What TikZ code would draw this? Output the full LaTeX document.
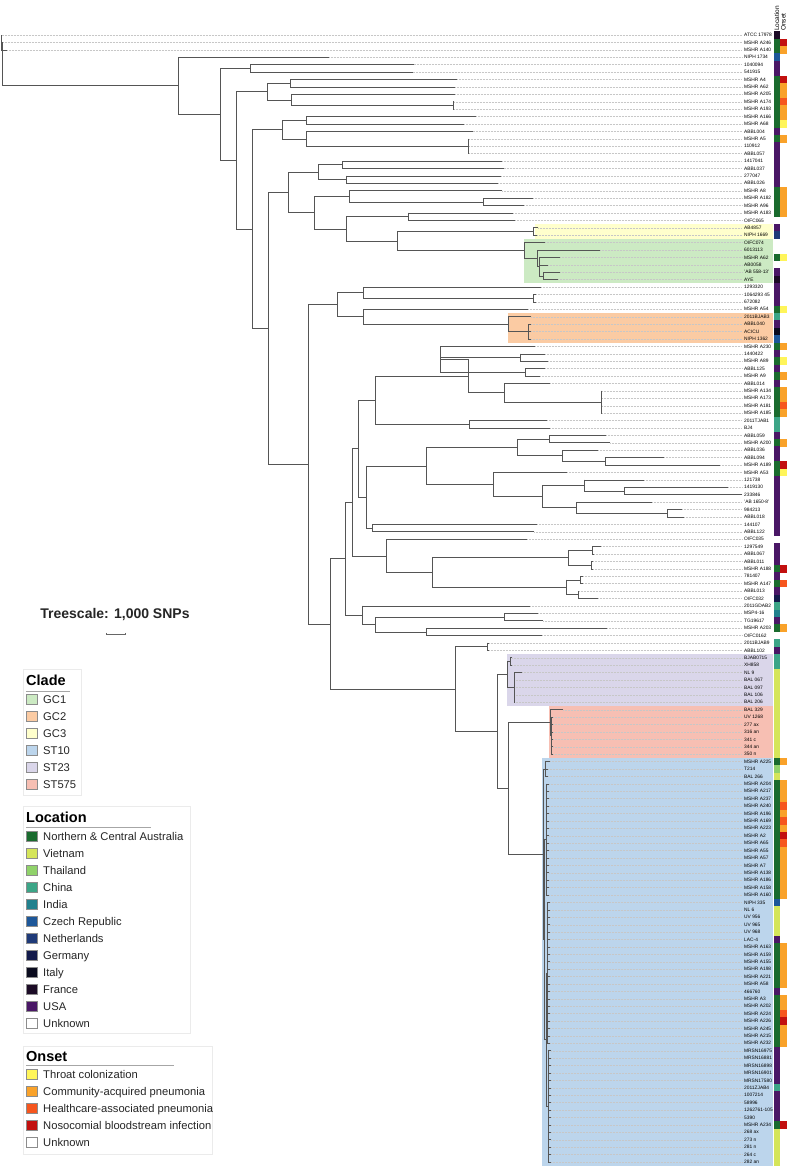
\documentclass[tikz,border=0pt]{standalone}
\usepackage{fontspec}
\setmainfont{Liberation Sans}
\definecolor{bGCa}{HTML}{CCEAC3}
\definecolor{bGCb}{HTML}{FBCBA3}
\definecolor{bGCc}{HTML}{FFFFCC}
\definecolor{bSTa}{HTML}{BCD5EC}
\definecolor{bSTb}{HTML}{DAD6EA}
\definecolor{bSTc}{HTML}{F7BFB3}
\definecolor{lNCA}{HTML}{1A6B2E}
\definecolor{lVIE}{HTML}{D5E55A}
\definecolor{lTHA}{HTML}{90D26A}
\definecolor{lCHN}{HTML}{3CA587}
\definecolor{lIND}{HTML}{21808D}
\definecolor{lCZE}{HTML}{1D5799}
\definecolor{lNED}{HTML}{1F3A78}
\definecolor{lGER}{HTML}{131A4B}
\definecolor{lITA}{HTML}{0A0B1E}
\definecolor{lFRA}{HTML}{1C0B26}
\definecolor{lUSA}{HTML}{4A1766}
\definecolor{oTHR}{HTML}{FFF55A}
\definecolor{oCAP}{HTML}{F9A22A}
\definecolor{oHAP}{HTML}{F6561E}
\definecolor{oNBI}{HTML}{C2100F}
\definecolor{brc}{HTML}{555555}
\tikzset{
  br/.style={draw=brc,line width=0.6pt,line cap=rect},
  dotln/.style={draw=black!22,line width=0.35pt,dash pattern=on 0.5pt off 1pt},
  lbl/.style={anchor=west,inner sep=0pt,font=\fontsize{4.85pt}{5pt}\selectfont,text=black},
  legtitle/.style={anchor=base west,inner sep=0pt,font=\bfseries\fontsize{14.5pt}{16pt}\selectfont},
  legtext/.style={anchor=base west,inner sep=0pt,font=\fontsize{11.2pt}{13pt}\selectfont,text=black!85},
  legbox/.style={draw=black!8,line width=0.6pt,fill=white},
  legsq/.style={draw=black!45,line width=0.4pt,minimum size=10.5pt,inner sep=0pt}
}
\newdimen\tyy
\newcommand{\inode}[3]{%
  \xdef\ymn{1000}\xdef\ymx{-2000}%
  \foreach \c in {#3}{%
    \pgfextracty{\tyy}{\pgfpointanchor{\c}{center}}%
    \pgfmathsetmacro\tmp{min(\ymn,\tyy)}\xdef\ymn{\tmp}%
    \pgfmathsetmacro\tmp{max(\ymx,\tyy)}\xdef\ymx{\tmp}%
    \draw[br] (#2pt,\the\tyy) -- (\c.center);%
  }%
  \draw[br] (#2pt,\ymn pt) -- (#2pt,\ymx pt);%
  \pgfmathsetmacro\tmp{(\ymn+\ymx)/2}%
  \coordinate (#1) at (#2pt,\tmp pt);%
}
\def\nocol{no}
\newcommand{\leaf}[5]{%
  \pgfmathsetmacro\yy{-(35+(#1-1)*7.414)}%
  \pgfmathsetmacro\ya{\yy+3.76}%
  \pgfmathsetmacro\yb{\yy-3.76}%
  \coordinate (t#1) at (#2pt,\yy pt);%
  \draw[dotln] (t#1) -- (742pt,\yy pt);%
  \node[lbl] (l#1) at (744pt,\yy pt) {#3};%
  \def\tmpa{#4}\ifx\tmpa\nocol\else\fill[fill=l#4] (774pt,\ya pt) rectangle (779.5pt,\yb pt);\fi
  \def\tmpa{#5}\ifx\tmpa\nocol\else\fill[fill=o#5] (780pt,\ya pt) rectangle (786.5pt,\yb pt);\fi
}
\newcommand{\band}[4]{% color, x, first leaf, last leaf
  \pgfmathsetmacro\ya{-(35+(#3-1)*7.414)+3.707}%
  \pgfmathsetmacro\yb{-(35+(#4-1)*7.414)-3.707}%
  \fill[fill=#1] (#2pt,\ya pt) rectangle (773pt,\yb pt);%
}
\begin{document}
\begin{tikzpicture}[x=1pt,y=1pt]
\useasboundingbox (0,0) rectangle (787,-1168);
\fill[white] (0,0) rectangle (787,-1168);
% clade bands
\band{bGCc}{535}{27}{28}
\band{bGCa}{524}{29}{34}
\band{bGCb}{508}{39}{42}
\band{bSTb}{507}{85}{91}
\band{bSTc}{549}{92}{98}
\band{bSTa}{542}{99}{153}
% headers
\node[anchor=west,rotate=90,inner sep=0pt,font=\fontsize{6.5pt}{7pt}\selectfont] (hloc) at (776.8,-31) {Location};
\node[anchor=west,rotate=90,inner sep=0pt,font=\fontsize{6.5pt}{7pt}\selectfont] (hons) at (783.3,-31) {Onset};
% leaves
\leaf{1}{1.5}{ATCC 17978}{FRA}{no}
\leaf{2}{3}{MSHR A246}{NCA}{NBI}
\leaf{3}{7}{MSHR A140}{NCA}{CAP}
\leaf{4}{329}{NIPH 1734}{CZE}{no}
\leaf{5}{413.6}{1040094}{USA}{no}
\leaf{6}{412.5}{541915}{USA}{no}
\leaf{7}{457}{MSHR A4}{NCA}{NBI}
\leaf{8}{455}{MSHR A62}{NCA}{CAP}
\leaf{9}{455}{MSHR A205}{NCA}{CAP}
\leaf{10}{454}{MSHR A174}{NCA}{HAP}
\leaf{11}{454}{MSHR A193}{NCA}{CAP}
\leaf{12}{476}{MSHR A166}{NCA}{CAP}
\leaf{13}{464}{MSHR A68}{NCA}{THR}
\leaf{14}{472.5}{ABBL004}{USA}{no}
\leaf{15}{469}{MSHR A5}{NCA}{CAP}
\leaf{16}{469}{110912}{USA}{no}
\leaf{17}{469}{ABBL057}{USA}{no}
\leaf{18}{502}{1417041}{USA}{no}
\leaf{19}{503.6}{ABBL037}{USA}{no}
\leaf{20}{501}{277047}{USA}{no}
\leaf{21}{498}{ABBL026}{USA}{no}
\leaf{22}{502}{MSHR A8}{NCA}{CAP}
\leaf{23}{533}{MSHR A182}{NCA}{CAP}
\leaf{24}{524}{MSHR A96}{NCA}{CAP}
\leaf{25}{513}{MSHR A183}{NCA}{CAP}
\leaf{26}{515}{OIFC065}{no}{no}
\leaf{27}{538}{AB4857}{USA}{no}
\leaf{28}{537}{NIPH 1669}{NED}{no}
\leaf{29}{545}{OIFC074}{no}{no}
\leaf{30}{600}{6013113}{no}{no}
\leaf{31}{560}{MSHR A62}{NCA}{THR}
\leaf{32}{548}{AB0058}{no}{no}
\leaf{33}{560}{'AB 558-13'}{USA}{no}
\leaf{34}{558}{AYE}{FRA}{no}
\leaf{35}{541}{1293320}{USA}{no}
\leaf{36}{536}{1064293 45}{USA}{no}
\leaf{37}{536}{672082}{USA}{no}
\leaf{38}{528}{MSHR A54}{NCA}{THR}
\leaf{39}{531}{2011BJAB3}{CHN}{no}
\leaf{40}{531}{ABBL040}{USA}{no}
\leaf{41}{531}{ACICU}{ITA}{no}
\leaf{42}{531}{NIPH 1362}{CZE}{no}
\leaf{43}{535}{MSHR A230}{NCA}{CAP}
\leaf{44}{545}{1440422}{USA}{no}
\leaf{45}{548}{MSHR A89}{NCA}{THR}
\leaf{46}{545}{ABBL125}{USA}{no}
\leaf{47}{540}{MSHR A9}{NCA}{CAP}
\leaf{48}{550}{ABBL014}{USA}{no}
\leaf{49}{602}{MSHR A134}{NCA}{CAP}
\leaf{50}{602}{MSHR A173}{NCA}{CAP}
\leaf{51}{602}{MSHR A181}{NCA}{HAP}
\leaf{52}{602}{MSHR A185}{NCA}{CAP}
\leaf{53}{547}{2011TJAB1}{CHN}{no}
\leaf{54}{550}{BJ4}{CHN}{no}
\leaf{55}{606}{ABBL059}{USA}{no}
\leaf{56}{610}{MSHR A200}{NCA}{CAP}
\leaf{57}{598}{ABBL036}{USA}{no}
\leaf{58}{664}{ABBL094}{USA}{no}
\leaf{59}{720}{MSHR A189}{NCA}{NBI}
\leaf{60}{567}{MSHR A53}{NCA}{THR}
\leaf{61}{644}{121738}{USA}{no}
\leaf{62}{728}{1419130}{USA}{no}
\leaf{63}{742}{233846}{USA}{no}
\leaf{64}{652}{'AB 1650-8'}{USA}{no}
\leaf{65}{682}{984213}{USA}{no}
\leaf{66}{684}{ABBL018}{USA}{no}
\leaf{67}{537}{144107}{USA}{no}
\leaf{68}{534}{ABBL122}{USA}{no}
\leaf{69}{527}{OIFC035}{no}{no}
\leaf{70}{601}{1297549}{USA}{no}
\leaf{71}{594}{ABBL067}{USA}{no}
\leaf{72}{593}{ABBL011}{USA}{no}
\leaf{73}{593}{MSHR A188}{NCA}{NBI}
\leaf{74}{583}{781407}{USA}{no}
\leaf{75}{583}{MSHR A147}{NCA}{HAP}
\leaf{76}{579}{ABBL013}{USA}{no}
\leaf{77}{598}{OIFC032}{GER}{no}
\leaf{78}{530}{2011GDAB2}{CHN}{no}
\leaf{79}{538}{MSP4-16}{IND}{no}
\leaf{80}{543}{TG19617}{USA}{no}
\leaf{81}{607}{MSHR A203}{NCA}{CAP}
\leaf{82}{542}{OIFC0162}{no}{no}
\leaf{83}{489}{2011BJAB9}{CHN}{no}
\leaf{84}{489}{ABBL102}{USA}{no}
\leaf{85}{512}{BJAB0715}{CHN}{no}
\leaf{86}{512}{XH858}{CHN}{no}
\leaf{87}{522}{NL 9}{VIE}{no}
\leaf{88}{514}{BAL 067}{VIE}{no}
\leaf{89}{514}{BAL 097}{VIE}{no}
\leaf{90}{514}{BAL 106}{VIE}{no}
\leaf{91}{514}{BAL 206}{VIE}{no}
\leaf{92}{563}{BAL 329}{VIE}{no}
\leaf{93}{553}{UV 1268}{VIE}{no}
\leaf{94}{553}{277 ax}{VIE}{no}
\leaf{95}{553}{316 an}{VIE}{no}
\leaf{96}{553}{341 c}{VIE}{no}
\leaf{97}{553}{344 an}{VIE}{no}
\leaf{98}{553}{350 n}{VIE}{no}
\leaf{99}{550}{MSHR A225}{NCA}{CAP}
\leaf{100}{548}{T214}{THA}{no}
\leaf{101}{548}{BAL 266}{VIE}{no}
\leaf{102}{549}{MSHR A204}{NCA}{CAP}
\leaf{103}{549}{MSHR A217}{NCA}{CAP}
\leaf{104}{549}{MSHR A237}{NCA}{CAP}
\leaf{105}{549}{MSHR A240}{NCA}{HAP}
\leaf{106}{549}{MSHR A196}{NCA}{CAP}
\leaf{107}{549}{MSHR A169}{NCA}{HAP}
\leaf{108}{549}{MSHR A223}{NCA}{CAP}
\leaf{109}{549}{MSHR A2}{NCA}{NBI}
\leaf{110}{549}{MSHR A65}{NCA}{HAP}
\leaf{111}{549}{MSHR A55}{NCA}{CAP}
\leaf{112}{549}{MSHR A57}{NCA}{CAP}
\leaf{113}{549}{MSHR A7}{NCA}{CAP}
\leaf{114}{549}{MSHR A138}{NCA}{CAP}
\leaf{115}{549}{MSHR A186}{NCA}{CAP}
\leaf{116}{549}{MSHR A158}{NCA}{CAP}
\leaf{117}{549}{MSHR A160}{NCA}{CAP}
\leaf{118}{550}{NIPH 335}{CZE}{no}
\leaf{119}{550}{NL 6}{VIE}{no}
\leaf{120}{550}{UV 956}{VIE}{no}
\leaf{121}{550}{UV 965}{VIE}{no}
\leaf{122}{550}{UV 968}{VIE}{no}
\leaf{123}{550}{LAC-4}{USA}{no}
\leaf{124}{550}{MSHR A163}{NCA}{CAP}
\leaf{125}{550}{MSHR A159}{NCA}{CAP}
\leaf{126}{550}{MSHR A155}{NCA}{CAP}
\leaf{127}{550}{MSHR A198}{NCA}{CAP}
\leaf{128}{550}{MSHR A221}{NCA}{CAP}
\leaf{129}{550}{MSHR A58}{NCA}{CAP}
\leaf{130}{550}{466760}{USA}{no}
\leaf{131}{550}{MSHR A3}{NCA}{CAP}
\leaf{132}{550}{MSHR A202}{NCA}{CAP}
\leaf{133}{550}{MSHR A224}{NCA}{HAP}
\leaf{134}{550}{MSHR A226}{NCA}{NBI}
\leaf{135}{550}{MSHR A245}{NCA}{CAP}
\leaf{136}{550}{MSHR A215}{NCA}{CAP}
\leaf{137}{550}{MSHR A232}{NCA}{CAP}
\leaf{138}{551}{MRSN16975}{USA}{no}
\leaf{139}{551}{MRSN16881}{USA}{no}
\leaf{140}{551}{MRSN16898}{USA}{no}
\leaf{141}{551}{MRSN16901}{USA}{no}
\leaf{142}{551}{MRSN17580}{USA}{no}
\leaf{143}{551}{2011ZJAB4}{CHN}{no}
\leaf{144}{551}{1007214}{USA}{no}
\leaf{145}{551}{58996}{USA}{no}
\leaf{146}{551}{1262761-105}{USA}{no}
\leaf{147}{551}{5390}{USA}{no}
\leaf{148}{551}{MSHR A234}{NCA}{NBI}
\leaf{149}{551}{268 ax}{VIE}{no}
\leaf{150}{551}{273 n}{VIE}{no}
\leaf{151}{551}{281 n}{VIE}{no}
\leaf{152}{551}{264 c}{VIE}{no}
\leaf{153}{551}{282 an}{VIE}{no}
% ---- tree: upper part
\inode{a0}{1}{t1,t2,t3}
\inode{n250}{250}{t5,t6}
\inode{n290a}{290}{t7,t8}
\inode{n453}{453}{t10,t11}
\inode{n291}{291}{t9,n453}
\inode{n267}{267}{n290a,n291}
\inode{n306a}{306}{t12,t13}
\inode{n468a}{468}{t15,t16,t17}
\inode{n306b}{306}{t14,n468a}
\inode{n282}{282}{n306a,n306b}
\inode{n342}{342}{t18,t19}
\inode{n346a}{346}{t20,t21}
\inode{n318}{318}{n342,n346a}
\inode{n483}{483}{t23,t24}
\inode{n349}{349}{t22,n483}
\inode{n408}{408}{t25,t26}
\inode{n533}{533}{t27,t28}
\inode{n543}{543}{t33,t34}
\inode{n539}{539}{t31,t32,n543}
\inode{n537}{537.5}{t30,n539}
\inode{n524}{524}{t29,n537}
\inode{n397}{397}{n533,n524}
\inode{n346b}{346}{n408,n397}
\inode{n314}{314}{n349,n346b}
\inode{n288}{288}{n318,n314}
\inode{n533b}{533}{t36,t37}
\inode{n363a}{363}{t35,n533b}
\inode{n528}{528}{t40,t41,t42}
\inode{n508}{508}{t39,n528}
\inode{n363b}{363}{t38,n508}
\inode{n337}{337.5}{n363a,n363b}
% ---- middle part
\inode{n520a}{520}{t44,t45}
\inode{n525a}{525}{t46,t47}
\inode{n440}{440}{t43,n520a,n525a}
\inode{n601}{601}{t49,t50,t51,t52}
\inode{n504}{504}{t48,n601}
\inode{n468}{468}{n440,n504}
\inode{n469}{469}{t53,t54}
\inode{n549}{549}{t55,t56}
\inode{n605}{605}{t58,t59}
\inode{n562}{562}{t57,n605}
\inode{n517}{517}{n549,n562}
\inode{n624}{624}{t62,t63}
\inode{n584}{584}{t61,n624}
\inode{n667}{667}{t65,t66}
\inode{n576}{576}{t64,n667}
\inode{n542}{542}{n584,n576}
\inode{n493}{493}{t60,n542}
\inode{n426}{426}{n517,n493}
\inode{n592}{592}{t70,t71}
\inode{n591}{591}{t72,t73}
\inode{n568}{568}{n592,n591}
\inode{n580}{580}{t74,t75}
\inode{n578}{578}{t76,t77}
\inode{n566}{566}{n580,n578}
\inode{n432}{432}{n568,n566}
\inode{n386}{386}{t69,n432}
\inode{n504b}{504}{t79,t80}
\inode{n426b}{426}{t81,t82}
% ---- lower part
\inode{n487}{487}{t83,t84}
\inode{n510}{510}{t85,t86}
\inode{n514}{514}{t87,t88,t89,t90,t91}
\inode{n507}{507}{n510,n514}
\inode{n551}{551}{t93,t94,t95,t96,t97,t98}
\inode{n549b}{550}{t92,n551}
\inode{sP}{545}{t99,t100,t101}
\inode{sR}{546.5}{t102,t103,t104,t105,t106,t107,t108,t109,t110,t111,t112,t113,t114,t115,t116,t117}
\inode{sT}{547.5}{t118,t119,t120,t121,t122,t123,t124,t125,t126,t127,t128,t129,t130,t131,t132,t133,t134,t135,t136,t137}
\inode{sU}{548}{t138,t139,t140,t141,t142,t143,t144,t145,t146,t147,t148,t149,t150,t151,t152,t153}
\inode{sS}{546}{sT,sU}
\inode{sQ}{544.5}{sR,sS}
\inode{s0}{543}{sP,sQ}
\inode{n508b}{508}{n549b,s0}
\inode{n497}{497}{n507,n508b}
\inode{n455}{455}{n487,n497}
% ---- backbone
\inode{nX1}{375}{n468,n469}
\inode{nX2}{372}{t67,t68}
\inode{nX3}{366}{n426,nX2}
\inode{nX4}{358}{nX1,nX3}
\inode{nX5}{352}{nX4,n386}
\inode{nX6}{375}{n504b,n426b}
\inode{nX7}{362}{t78,nX6}
\inode{nX8}{345}{nX5,nX7}
\inode{nX}{330}{nX8,n455}
\inode{n308}{308}{n337,nX}
\inode{n268}{268}{n288,n308}
\inode{n252}{252.5}{n282,n268}
\inode{n236}{236}{n267,n252}
\inode{n220}{220}{n250,n236}
\inode{n178}{178}{t4,n220}
\inode{r0}{2.5}{a0,n178}
% tree scale
\node[anchor=center,inner sep=0pt,font=\bfseries\fontsize{14pt}{16pt}\selectfont,text=black!85] (tsc) at (115,-615) {Treescale: 1,000 SNPs};
\coordinate (sa) at (106,-634); \coordinate (sb) at (125,-634);
\draw[draw=black!60,line width=0.5pt] (sa) -- (sb);
\draw[draw=black!60,line width=0.4pt] ([yshift=1.2pt]sa) -- ([yshift=-1.2pt]sa) ([yshift=1.2pt]sb) -- ([yshift=-1.2pt]sb);
% clade legend
\draw[legbox] (23,-669) rectangle (81,-795);
\node[legtitle] (ct) at (26,-685.5) {Clade};
\draw[black!35,line width=0.6pt] (26,-691) -- (70,-691);
\foreach \c/\t [count=\i] in {bGCa/GC1,bGCb/GC2,bGCc/GC3,bSTa/ST10,bSTb/ST23,bSTc/ST575}{
  \node[legsq,fill=\c] (cs\i) at (31.5,{-699-17*(\i-1)}) {};
  \node[legtext] (cl\i) at (43,{-703-17*(\i-1)}) {\t};
}
% location legend
\draw[legbox] (23,-806) rectangle (190,-1033);
\node[legtitle] (lt) at (26,-822.5) {Location};
\draw[black!35,line width=0.6pt] (26,-827) -- (151,-827);
\foreach \c/\t [count=\i] in {lNCA/Northern \& Central Australia,lVIE/Vietnam,lTHA/Thailand,lCHN/China,lIND/India,lCZE/Czech Republic,lNED/Netherlands,lGER/Germany,lITA/Italy,lFRA/France,lUSA/USA,white/Unknown}{
  \node[legsq,fill=\c] (ls\i) at (31.5,{-836-17*(\i-1)}) {};
  \node[legtext] (ll\i) at (43,{-840-17*(\i-1)}) {\t};
}
% onset legend
\draw[legbox] (23,-1046) rectangle (212,-1154);
\node[legtitle] (ot) at (26,-1061.5) {Onset};
\draw[black!35,line width=0.6pt] (26,-1065) -- (174,-1065);
\foreach \c/\t [count=\i] in {oTHR/Throat colonization,oCAP/Community-acquired pneumonia,oHAP/Healthcare-associated pneumonia,oNBI/Nosocomial bloodstream infection,white/Unknown}{
  \node[legsq,fill=\c] (os\i) at (31.5,{-1074-17*(\i-1)}) {};
  \node[legtext] (ol\i) at (43,{-1078-17*(\i-1)}) {\t};
}
\end{tikzpicture}
\end{document}
